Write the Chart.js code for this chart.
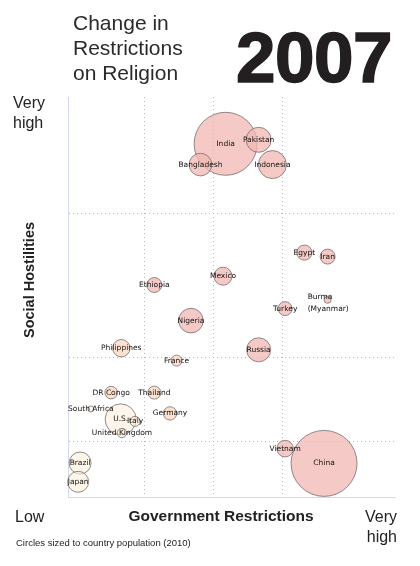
<!DOCTYPE html>
<html>
<head>
<meta charset="utf-8">
<script src="https://cdn.jsdelivr.net/npm/chart.js@4.4.1/dist/chart.umd.min.js"></script>
<style>
    body { margin: 0; background: #fff; }
    #wrap { position: relative; width: 420px; height: 566px; overflow: hidden; }
    #grafica { position: absolute; left: 0; top: 0; }
    .txt { position: absolute; font-family: "Liberation Sans", Arial, sans-serif; color: #222; white-space: nowrap; }
    #titulo { left: 73px; top: 10px; font-size: 21px; line-height: 25px; color: #2a2a2a; }
    #anio { left: 236px; top: 22px; font-size: 71px; line-height: 71px; font-weight: bold; color: #231f20; -webkit-text-stroke: 1.5px #231f20; letter-spacing: -0.5px; }
    #yAlto { left: 13px; top: 92.5px; font-size: 16px; line-height: 20px; }
    #yTitulo { left: -41px; top: 270px; width: 140px; height: 20px; font-size: 14.5px; line-height: 20px; font-weight: bold; text-align: center; transform: rotate(-90deg); }
    #xBajo { left: 15px; top: 506.5px; font-size: 16px; line-height: 20px; }
    #xTitulo { left: 121px; top: 506.3px; width: 200px; font-size: 15.5px; line-height: 20px; font-weight: bold; text-align: center; }
    #xAlto { right: 23px; top: 506.5px; font-size: 16px; line-height: 20px; text-align: right; }
    #nota { left: 16px; top: 537.4px; font-size: 9.5px; line-height: 12px; }
</style>
</head>
<body>
<div id="wrap">
    <canvas id="grafica" width="420" height="566"></canvas>
    <div class="txt" id="titulo">Change in<br>Restrictions<br>on Religion</div>
    <div class="txt" id="anio">2007</div>
    <div class="txt" id="yAlto">Very<br>high</div>
    <div class="txt" id="yTitulo">Social Hostilities</div>
    <div class="txt" id="xBajo">Low</div>
    <div class="txt" id="xTitulo">Government Restrictions</div>
    <div class="txt" id="xAlto">Very<br>high</div>
    <div class="txt" id="nota">Circles sized to country population (2010)</div>
</div>
<script>
// Datos (indices 0-10)
var countries = ["India", "Pakistan", "Bangladesh", "Indonesia", "Egypt", "Iran", "Mexico", "Ethiopia",
    "Nigeria", "Turkey", "Burma\n(Myanmar)", "Russia", "Philippines", "France", "DR Congo", "Thailand",
    "Germany", "South Africa", "U.S.", "Italy", "United Kingdom", "Brazil", "Japan", "Vietnam", "China"];
var govRestrictions = [4.82, 5.83, 4.05, 6.25, 7.23, 7.94, 4.74, 2.64,
    3.76, 6.64, 7.94, 5.83, 1.63, 3.32, 1.32, 2.64,
    3.12, 0.70, 1.61, 2.05, 1.65, 0.37, 0.31, 6.64, 7.83];
var socialHostilities = [8.83, 8.93, 8.31, 8.31, 6.11, 6.01, 5.52, 5.30,
    4.41, 4.71, 4.93, 3.68, 3.72, 3.41, 2.61, 2.61,
    2.09, 2.20, 1.94, 1.89, 1.60, 0.85, 0.38, 1.21, 0.84];
// Poblacion en millones (estimada del tamano de los circulos)
var population = [1225, 193, 158, 242, 71, 69, 100, 69,
    187, 60, 15, 178, 93, 37, 49, 52,
    55, 11, 297, 31, 27, 149, 136, 85, 1344];
// Grupo de color de cada circulo
var colorGroup = ["rosa", "rosa", "rosa", "rosa", "rosa", "rosa", "rosa", "rosa",
    "rosa", "rosa", "rosa", "rosa", "durazno", "durazno", "durazno", "durazno",
    "durazno", "crema", "crema", "crema", "crema", "crema", "crema", "rosa", "rosa"];
// Umbrales de las categorias (lineas punteadas)
var xThresholds = [2.35, 4.45, 6.55];
var yThresholds = [1.4, 3.5, 7.1];

var colores = {
    rosa: "rgba(241, 184, 178, 0.74)",
    durazno: "rgba(252, 212, 188, 0.7)",
    crema: "rgba(254, 240, 220, 0.6)"
};

var puntos = countries.map(function (c, i) {
    return { x: govRestrictions[i], y: socialHostilities[i], r: 0.9 * Math.sqrt(population[i]) };
});

// Plugin para escribir el nombre de cada pais
var etiquetas = {
    id: "etiquetas",
    afterDatasetsDraw: function (chart) {
        var ctx = chart.ctx;
        var meta = chart.getDatasetMeta(0);
        ctx.save();
        ctx.font = '7.5px "DejaVu Sans", sans-serif';
        ctx.fillStyle = "#111";
        ctx.textBaseline = "middle";
        meta.data.forEach(function (pt, i) {
            var lines = countries[i].split("\n");
            if (lines.length > 1) {
                ctx.textAlign = "left";
                ctx.fillText(lines[0], pt.x - 20, pt.y - 3);
                ctx.fillText(lines[1], pt.x - 20, pt.y + 9);
            } else {
                ctx.textAlign = "center";
                ctx.fillText(lines[0], pt.x, pt.y);
            }
        });
        ctx.restore();
    }
};

var ctx = document.getElementById("grafica").getContext("2d");
var chart = new Chart(ctx, {
    type: "bubble",
    data: {
        datasets: [{
            data: puntos,
            backgroundColor: colorGroup.map(function (g) { return colores[g]; }),
            borderColor: "rgba(120, 110, 110, 0.8)",
            borderWidth: 1,
            clip: false
        }]
    },
    options: {
        responsive: false,
        animation: false,
        events: [],
        layout: { autoPadding: false, padding: { left: 68, top: 97, right: 25, bottom: 69 } },
        plugins: { legend: { display: false }, tooltip: { enabled: false } },
        scales: {
            x: {
                type: "linear", min: 0, max: 10,
                afterBuildTicks: function (axis) {
                    axis.ticks = xThresholds.map(function (v) { return { value: v }; });
                },
                ticks: { display: false },
                grid: { color: "#b8b8b8", drawTicks: false },
                border: { color: "#d3d9ea", width: 1, dash: [1, 3] }
            },
            y: {
                type: "linear", min: 0, max: 10,
                afterBuildTicks: function (axis) {
                    axis.ticks = yThresholds.map(function (v) { return { value: v }; });
                },
                ticks: { display: false },
                grid: { color: "#b8b8b8", drawTicks: false },
                border: { color: "#d3d9ea", width: 1, dash: [1, 3] }
            }
        }
    },
    plugins: [etiquetas]
});
</script>
</body>
</html>
